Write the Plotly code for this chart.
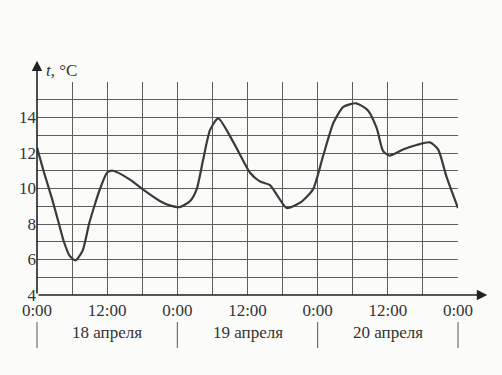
import plotly.graph_objects as go

# time in hours from 0:00 18 April, temperature in °C
hours = [0, 1.2, 2.5, 3.6, 4.6, 5.6, 6.6, 7.8, 8.9, 9.8, 10.8, 12.0, 13.0, 15.9, 18.1, 21.0, 22.7, 24.4,
         26.2, 27.3, 28.4, 29.6, 31.0, 33.6, 36.4, 38.1, 39.8, 41.3, 42.7, 45.0, 47.2, 48.9,
         50.7, 52.4, 54.6, 56.6, 58.1, 59.2, 60.3, 62.6, 64.9, 67.2, 68.6, 70.0, 72.0]
temps = [12.3, 10.9, 9.5, 8.2, 7.0, 6.2, 5.95, 6.5, 8.0, 9.0, 10.0, 10.9, 11.0, 10.5, 9.95, 9.3, 9.05, 8.95,
         9.3, 9.95, 11.6, 13.3, 13.95, 12.6, 10.9, 10.4, 10.2, 9.5, 8.9, 9.2, 9.95, 11.8,
         13.7, 14.6, 14.8, 14.4, 13.4, 12.1, 11.85, 12.2, 12.45, 12.6, 12.2, 10.7, 8.9]

x_tickvals = list(range(0, 73, 6))
x_ticktext = ["0:00", "", "12:00", "", "0:00", "", "12:00", "", "0:00", "", "12:00", "", "0:00"]
y_tickvals = list(range(4, 17))
y_ticktext = [str(v) if v % 2 == 0 and v <= 14 else "" for v in y_tickvals]
dates = ["18 апреля", "19 апреля", "20 апреля"]
date_centers = [12, 36, 60]
separators = [0, 24, 48, 72]

FONT = "'Liberation Serif', 'DejaVu Serif', serif"
INK = "#333333"

fig = go.Figure()
fig.add_trace(go.Scatter(x=hours, y=temps, mode="lines",
                         line=dict(color="#3a3a3a", width=2.2, shape="spline", smoothing=0.6),
                         hoverinfo="skip", showlegend=False))

fig.update_layout(
    width=502, height=375,
    margin=dict(l=37, r=44, t=82, b=80),
    paper_bgcolor="#fbfbfa", plot_bgcolor="#fbfbfa",
    font=dict(family=FONT, color=INK, size=16),
    showlegend=False,
    xaxis=dict(range=[0, 72], tickvals=x_tickvals, ticktext=x_ticktext, showgrid=True,
               gridcolor="#5e5e5e", gridwidth=1, zeroline=False, showline=False, ticks="",
               ticklabelstandoff=3,
               tickfont=dict(family=FONT, size=17, color=INK), fixedrange=True),
    yaxis=dict(range=[4, 16], tickvals=y_tickvals, ticktext=y_ticktext, showgrid=True,
               gridcolor="#5e5e5e", gridwidth=1, zeroline=False, showline=False, ticks="",
               tickfont=dict(family=FONT, size=17, color=INK), fixedrange=True),
)

annotations = []
# axis arrows
annotations.append(dict(x=77, y=4, xref="x", yref="y", ax=0, ay=4, axref="x", ayref="y",
                        showarrow=True, arrowhead=2, arrowsize=1.3, arrowwidth=1.6, arrowcolor="#222", text=""))
annotations.append(dict(x=0, y=17.2, xref="x", yref="y", ax=0, ay=4, axref="x", ayref="y",
                        showarrow=True, arrowhead=2, arrowsize=1.3, arrowwidth=1.6, arrowcolor="#222", text=""))
annotations.append(dict(x=0.016, y=1.056, xref="paper", yref="paper", xanchor="left", yanchor="middle",
                        text="<i>t</i>, °C", showarrow=False, font=dict(family=FONT, size=17, color=INK)))
for c, d in zip(date_centers, dates):
    annotations.append(dict(x=c / 72, y=-0.178, xref="paper", yref="paper", xanchor="center", yanchor="middle",
                            text=d, showarrow=False, font=dict(family=FONT, size=17, color=INK)))
fig.update_layout(annotations=annotations)

shapes = []
for s in separators:
    shapes.append(dict(type="line", xref="paper", yref="paper", x0=s / 72, x1=s / 72, y0=-0.127, y1=-0.249,
                       line=dict(color="#555", width=1)))
fig.update_layout(shapes=shapes)

fig.write_html("out.html")
